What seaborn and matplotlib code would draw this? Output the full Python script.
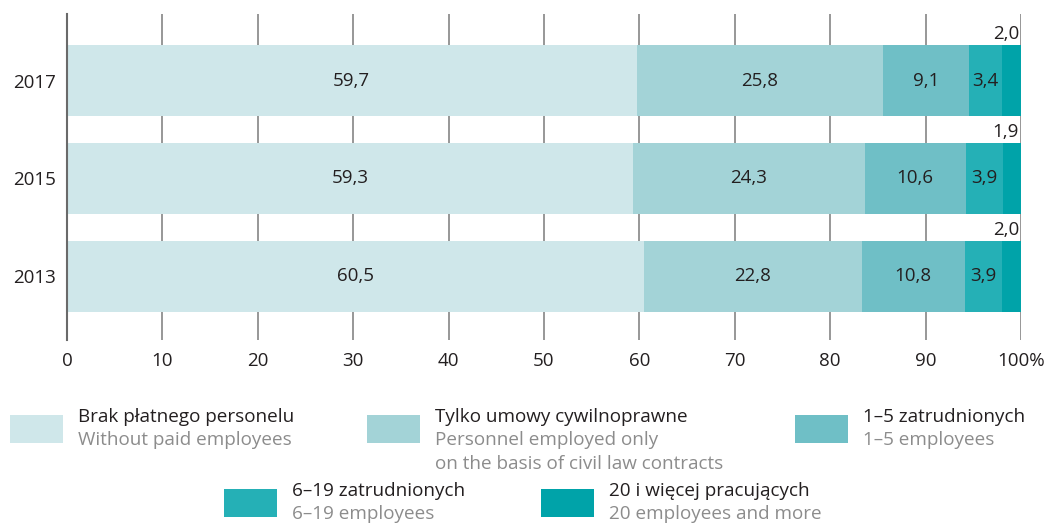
import numpy as np
import pandas as pd
import seaborn as sns
import matplotlib.pyplot as plt
from matplotlib.patches import Rectangle

# data
years = ["2017", "2015", "2013"]
brak = [59.7, 59.3, 60.5]
umowy = [25.8, 24.3, 22.8]
z1_5 = [9.1, 10.6, 10.8]
z6_19 = [3.4, 3.9, 3.9]
z20 = [2.0, 1.9, 2.0]

series = [brak, umowy, z1_5, z6_19, z20]
colors = ["#cfe7ea", "#a3d3d7", "#6fbfc6", "#25b0b6", "#00a3a9"]
labels_pl = ["Brak płatnego personelu", "Tylko umowy cywilnoprawne", "1–5 zatrudnionych",
             "6–19 zatrudnionych", "20 i więcej pracujących"]
labels_en = ["Without paid employees", "Personnel employed only\non the basis of civil law contracts",
             "1–5 employees", "6–19 employees", "20 employees and more"]

sns.set_style("white")
plt.rcParams["font.family"] = ["Open Sans", "DejaVu Sans"]

fig = plt.figure(figsize=(10.56, 5.24), dpi=100)
ax = fig.add_axes([67 / 1056, 1 - 340 / 524, (1021 - 67) / 1056, (340 - 14) / 524])

cum = np.cumsum(np.array(series), axis=0)
# draw cumulative layers from largest to smallest so each covers the previous
for i in range(len(series) - 1, -1, -1):
    df = pd.DataFrame({"year": years, "val": cum[i]})
    sns.barplot(data=df, x="val", y="year", orient="h", color=colors[i],
                width=0.73, ax=ax, saturation=1, zorder=2, linewidth=0)

# value labels
txt = "#231f20"
fs = 13.5
for j in range(len(years)):
    for i in range(len(series) - 1):
        v = series[i][j]
        ax.text(cum[i][j] - v / 2, j, f"{v:.1f}".replace(".", ","), ha="center", va="center",
                fontsize=fs, color=txt, zorder=3)
    v = series[-1][j]
    ax.text(cum[-1][j] - 0.2, j - 0.38, f"{v:.1f}".replace(".", ","), ha="right", va="bottom",
            fontsize=fs, color=txt, zorder=3)

ax.set_xlim(0, 100)
ax.set_ylim(2.65, -0.68)
ax.set_xticks(range(0, 101, 10))
ax.set_xticklabels([str(t) for t in range(0, 100, 10)] + ["100%"])
ax.tick_params(axis="both", length=0, labelsize=fs, colors=txt)
ax.tick_params(axis="x", pad=9)
ax.tick_params(axis="y", pad=8)
ax.set_xlabel("")
ax.set_ylabel("")
for t in range(10, 101, 10):
    ax.axvline(t, color="#8f8f8f", lw=1.3, zorder=1)
for s in ["top", "right", "bottom"]:
    ax.spines[s].set_visible(False)
ax.spines["left"].set_color("#6a6a6a")
ax.spines["left"].set_linewidth(1.5)
ax.spines["left"].set_zorder(4)

# legend drawn by hand below the plot
legend_pos = [(10, 415), (367, 415), (795, 415), (224, 489), (541, 489)]
for i, (x0, y0) in enumerate(legend_pos):
    fig.add_artist(Rectangle((x0 / 1056, 1 - (y0 + 28) / 524), 53 / 1056, 28 / 524,
                             transform=fig.transFigure, color=colors[i], lw=0))
    tx = (x0 + 68) / 1056
    fig.text(tx, 1 - (y0 + 2) / 524, labels_pl[i],
             ha="left", va="center", fontsize=13.6, color=txt)
    fig.text(tx, 1 - (y0 + 16) / 524, labels_en[i],
             ha="left", va="top", fontsize=13.6, color="#8c8c8c", linespacing=1.4)

fig.savefig("out.png", dpi=100)
